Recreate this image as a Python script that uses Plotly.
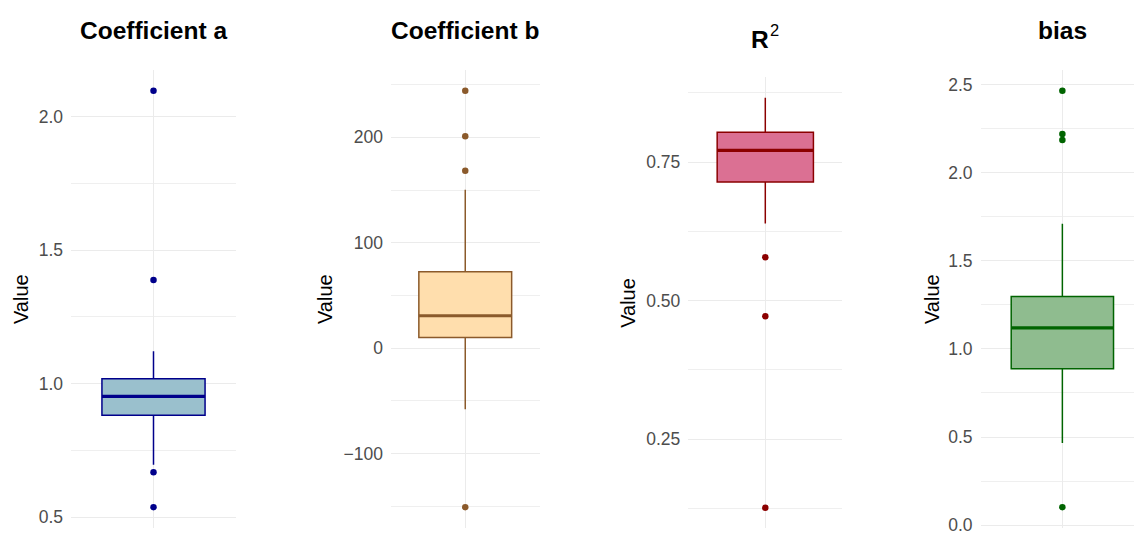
import plotly.graph_objects as go

# ---- data ----
panel_titles = ["<b>Coefficient a</b>", "<b>Coefficient b</b>", "<b>R</b>", "<b>bias</b>"]

a_stats = dict(q1=0.881, median=0.952, q3=1.018, lowerfence=0.696, upperfence=1.121)
a_outliers = [2.097, 1.388, 0.668, 0.537]

b_stats = dict(q1=10.1, median=30.7, q3=72.4, lowerfence=-58.0, upperfence=150.3)
b_outliers = [244.1, 201.0, 168.3, -150.9]

r2_stats = dict(q1=0.714, median=0.771, q3=0.804, lowerfence=0.639, upperfence=0.866)
r2_outliers = [0.5784, 0.4718, 0.126]

bias_stats = dict(q1=0.888, median=1.119, q3=1.297, lowerfence=0.466, upperfence=1.71)
bias_outliers = [2.464, 2.219, 2.185, 0.102]

a_ticks = [0.5, 1.0, 1.5, 2.0]
a_ticktext = ["0.5", "1.0", "1.5", "2.0"]
a_minor = [0.75, 1.25, 1.75]

b_ticks = [-100, 0, 100, 200]
b_ticktext = ["\u2212100", "0", "100", "200"]
b_minor = [-150, -50, 50, 150, 250]

r2_ticks = [0.25, 0.50, 0.75]
r2_ticktext = ["0.25", "0.50", "0.75"]
r2_minor = [0.125, 0.375, 0.625, 0.875]

bias_ticks = [0.0, 0.5, 1.0, 1.5, 2.0, 2.5]
bias_ticktext = ["0.0", "0.5", "1.0", "1.5", "2.0", "2.5"]
bias_minor = [0.25, 0.75, 1.25, 1.75, 2.25]

fills = ["#9AC0CD", "#FFDEAD", "#DB7093", "#8FBC8F"]
lines = ["#00008B", "#8B5A2B", "#8B0000", "#006400"]

# ---- layout geometry (pixels) ----
W, H = 1134, 533
# (x0, x1, y_top, y_bottom, xrange)
geom = [
    (71, 236, 70, 528, [0.4, 1.6]),
    (391, 539.5, 70, 528, [0.4, 1.6]),
    (688.3, 842.3, 77.3, 528.3, [0.4, 1.6]),
    (980.5, 1134, 70, 528, [0.4, 1.525]),
]
value_x = [21, 325, 628, 932]
title_y = [30.5, 30.5, 39.5, 30.5]
title_dx = [0, 0, -5, 0]

panels = [
    (a_stats, a_outliers, a_ticks, a_ticktext, a_minor),
    (b_stats, b_outliers, b_ticks, b_ticktext, b_minor),
    (r2_stats, r2_outliers, r2_ticks, r2_ticktext, r2_minor),
    (bias_stats, bias_outliers, bias_ticks, bias_ticktext, bias_minor),
]

FONT = "Liberation Sans, Arial, sans-serif"
GRID = "#EBEBEB"
BOXW = 0.75

fig = go.Figure()
annotations = []
layout_axes = {}

for i, (stats, outs, ticks, ticktext, minor) in enumerate(panels):
    n = "" if i == 0 else str(i + 1)
    xa, ya = "x" + n, "y" + n
    x0, x1, yt, yb, xr = geom[i]

    fig.add_trace(go.Box(
        x=[1], q1=[stats["q1"]], median=[stats["median"]], q3=[stats["q3"]],
        lowerfence=[stats["lowerfence"]], upperfence=[stats["upperfence"]],
        width=BOXW, whiskerwidth=0, boxpoints=False,
        fillcolor=fills[i], line=dict(color=lines[i], width=1.5),
        xaxis=xa, yaxis=ya, showlegend=False, hoverinfo="skip",
    ))
    # thicker median line
    fig.add_trace(go.Scatter(
        x=[1 - BOXW / 2, 1 + BOXW / 2], y=[stats["median"]] * 2, mode="lines",
        line=dict(color=lines[i], width=3.2), xaxis=xa, yaxis=ya,
        showlegend=False, hoverinfo="skip",
    ))
    fig.add_trace(go.Scatter(
        x=[1] * len(outs), y=outs, mode="markers",
        marker=dict(color=lines[i], size=6.5),
        xaxis=xa, yaxis=ya, showlegend=False, hoverinfo="skip",
    ))

    vals = outs + [stats["lowerfence"], stats["upperfence"]]
    lo, hi = min(vals), max(vals)
    pad = (hi - lo) * 0.05

    layout_axes["xaxis" + n] = dict(
        domain=[x0 / W, x1 / W], range=xr, type="linear",
        tickvals=[1], showticklabels=False, showgrid=True, gridcolor=GRID,
        gridwidth=1.2, zeroline=False, showline=False, ticks="", anchor=ya,
        fixedrange=True, automargin=False,
    )
    layout_axes["yaxis" + n] = dict(
        domain=[1 - yb / H, 1 - yt / H], range=[lo - pad, hi + pad],
        tickvals=ticks, ticktext=ticktext, showgrid=True, gridcolor=GRID,
        gridwidth=1.2, zeroline=False, showline=False, ticks="",
        tickfont=dict(family=FONT, size=17.5, color="#4D4D4D"),
        ticklabelstandoff=7, ticklabeloverflow="allow", automargin=False,
        minor=dict(tickvals=minor, showgrid=True, gridcolor="#EFEFEF", gridwidth=0.8, ticks=""),
        anchor=xa, fixedrange=True,
    )

    cx_px = x0 + (1 - xr[0]) / (xr[1] - xr[0]) * (x1 - x0)
    annotations.append(dict(
        text=panel_titles[i], x=(cx_px + title_dx[i]) / W, y=1 - title_y[i] / H,
        xref="paper", yref="paper",
        xanchor="center", yanchor="middle", showarrow=False,
        font=dict(family=FONT, size=24.5, color="#000000"),
    ))
    if i == 2:
        # superscript "2" of R²
        annotations.append(dict(
            text="2", x=(cx_px + 9) / W, y=1 - 30.5 / H, xref="paper", yref="paper",
            xanchor="center", yanchor="middle", showarrow=False,
            font=dict(family=FONT, size=16.5, color="#000000"),
        ))
    annotations.append(dict(
        text="Value", x=value_x[i] / W, y=1 - (yt + yb) / 2 / H, xref="paper", yref="paper",
        xanchor="center", yanchor="middle", showarrow=False, textangle=-90,
        font=dict(family=FONT, size=20, color="#000000"),
    ))

fig.update_layout(
    width=W, height=H, margin=dict(l=0, r=0, t=0, b=0, autoexpand=False),
    paper_bgcolor="white", plot_bgcolor="white",
    annotations=annotations, showlegend=False,
    **layout_axes,
)

fig.write_html(
    "out.html",
    config={"displayModeBar": False},
    post_script=(
        "document.documentElement.style.margin='0';"
        "document.body.style.margin='0';"
        "document.body.style.overflow='hidden';"
    ),
)
